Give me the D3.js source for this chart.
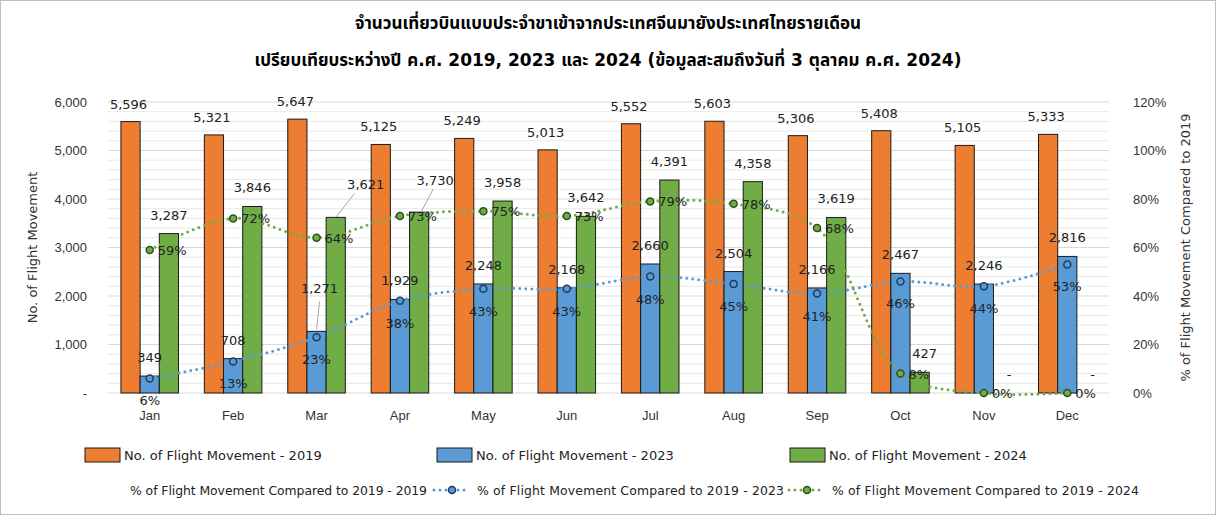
<!DOCTYPE html>
<html><head><meta charset="utf-8">
<script src="https://cdn.jsdelivr.net/npm/d3@7"></script>
<style>
body{margin:0;background:#fff;}
svg{display:block;font-family:"DejaVu Sans","Noto Sans","Noto Sans Thai",sans-serif;}
</style></head><body>
<svg id="c" width="1216" height="515"></svg>
<script>
const months = ["Jan","Feb","Mar","Apr","May","Jun","Jul","Aug","Sep","Oct","Nov","Dec"];
const flights2019 = [5596,5321,5647,5125,5249,5013,5552,5603,5306,5408,5105,5333];
const flights2023 = [349,708,1271,1929,2248,2168,2660,2504,2166,2467,2246,2816];
const flights2024 = [3287,3846,3621,3730,3958,3642,4391,4358,3619,427,null,null];
const pct2023 = [6,13,23,38,43,43,48,45,41,46,44,53];
const pct2024 = [59,72,64,73,75,73,79,78,68,8,0,0];
const leftTicks = [0,1000,2000,3000,4000,5000,6000];
const rightTicks = [0,20,40,60,80,100,120];
const titleLines = ["จำนวนเที่ยวบินแบบประจำขาเข้าจากประเทศจีนมายังประเทศไทยรายเดือน",
  "เปรียบเทียบระหว่างปี ค.ศ. 2019, 2023 และ 2024 (ข้อมูลสะสมถึงวันที่ 3 ตุลาคม ค.ศ. 2024)"];

const C19="#ED7D31", C23="#5B9BD5", C24="#70AD47";
const svg = d3.select("#c");
const W=1216,H=515;
const L=108,R=1109,T=102,B=393;
svg.append("rect").attr("x",0.5).attr("y",0.5).attr("width",W-1).attr("height",H-1).attr("fill","#fff").attr("stroke","#bfbfbf");

const x = d3.scaleBand().domain(months).range([L,R]).paddingInner(0.31).paddingOuter(0.155);
const xs = d3.scaleBand().domain(["a","b","c"]).range([0,x.bandwidth()]);
const y = d3.scaleLinear().domain([0,6000]).range([B,T]);
const yr = d3.scaleLinear().domain([0,120]).range([B,T]);
const cx = m => x(m)+x.bandwidth()/2;

// gridlines
svg.append("g").selectAll("line").data(d3.range(200,6001,200)).join("line")
  .attr("x1",L).attr("x2",R).attr("y1",d=>y(d)).attr("y2",d=>y(d))
  .attr("stroke",d=>d%1000===0?"#d9d9d9":"#e8e8e8").attr("stroke-width",1);
svg.append("line").attr("x1",L).attr("x2",R).attr("y1",B).attr("y2",B).attr("stroke","#d9d9d9");

// axes
const fmt = d3.format(",");
const la = svg.append("g").attr("transform",`translate(${L},0)`)
  .call(d3.axisLeft(y).tickValues(leftTicks).tickSize(0).tickPadding(21).tickFormat(d=>d===0?"-":fmt(d)));
la.select(".domain").remove();
la.selectAll("text").attr("font-size",13).attr("fill","#333").attr("font-family","inherit");
const ra = svg.append("g").attr("transform",`translate(${R},0)`)
  .call(d3.axisRight(yr).tickValues(rightTicks).tickSize(0).tickPadding(24).tickFormat(d=>d+"%"));
ra.select(".domain").remove();
ra.selectAll("text").attr("font-size",13).attr("fill","#333").attr("font-family","inherit");
const xa = svg.append("g").attr("transform",`translate(0,${B})`)
  .call(d3.axisBottom(x).tickSize(0).tickPadding(18));
xa.select(".domain").remove();
xa.selectAll("text").attr("font-size",13).attr("fill","#333").attr("font-family","inherit");

svg.append("text").attr("transform",`translate(37,${(T+B)/2}) rotate(-90)`).attr("text-anchor","middle")
  .attr("font-size",13).attr("fill","#333").text("No. of Flight Movement");
svg.append("text").attr("transform",`translate(1190,${(T+B)/2}) rotate(-90)`).attr("text-anchor","middle")
  .attr("font-size",13).attr("fill","#333").text("% of Flight Movement Compared to 2019");

// title
svg.selectAll(".title").data(titleLines).join("text").attr("class","title")
  .attr("x",608).attr("y",(d,i)=>29+i*37).attr("text-anchor","middle")
  .attr("font-size",17).attr("font-weight","bold").attr("fill","#000").text(d=>d);

// bars
const series = [{k:"a",v:flights2019,c:C19},{k:"b",v:flights2023,c:C23},{k:"c",v:flights2024,c:C24}];
series.forEach(s=>{
  svg.append("g").selectAll("rect").data(months.map((m,i)=>({m,v:s.v[i]})).filter(d=>d.v!=null)).join("rect")
    .attr("x",d=>x(d.m)+xs(s.k)).attr("width",xs.bandwidth())
    .attr("y",d=>y(d.v)).attr("height",d=>B-y(d.v))
    .attr("fill",s.c).attr("stroke","#1a1a1a").attr("stroke-width",1);
});

// lines
const line23 = d3.line().x((d,i)=>cx(months[i])).y(d=>yr(d)).curve(d3.curveCatmullRom);
svg.append("path").datum(pct2023).attr("d",line23).attr("fill","none").attr("stroke",C23)
  .attr("stroke-width",3).attr("stroke-dasharray","0 6").attr("stroke-linecap","round");
svg.append("path").datum(pct2024).attr("d",line23).attr("fill","none").attr("stroke",C24)
  .attr("stroke-width",3).attr("stroke-dasharray","0 6").attr("stroke-linecap","round");
svg.append("g").selectAll("circle").data(pct2023).join("circle")
  .attr("cx",(d,i)=>cx(months[i])).attr("cy",d=>yr(d)).attr("r",3.5)
  .attr("fill",C23).attr("stroke","#1f3a5f").attr("stroke-width",1.5);
svg.append("g").selectAll("circle").data(pct2024).join("circle")
  .attr("cx",(d,i)=>cx(months[i])).attr("cy",d=>yr(d)).attr("r",3.5)
  .attr("fill",C24).attr("stroke","#2f4f1f").attr("stroke-width",1.5);

// labels
const lab = (xx,yy,t,anchor="middle") => svg.append("text").attr("x",xx).attr("y",yy)
  .attr("text-anchor",anchor).attr("font-size",13).attr("fill","#222").text(t);
months.forEach((m,i)=>{
  const x19 = x(m)+xs("a")+xs.bandwidth()/2, x23 = x(m)+xs("b")+xs.bandwidth()/2, x24 = x(m)+xs("c")+xs.bandwidth()/2;
  lab(x19-2, y(flights2019[i])-13, fmt(flights2019[i]));
  if(i===2){
    lab(x23+3, y(flights2023[i])-38, fmt(flights2023[i]));
    svg.append("line").attr("x1",x23+3).attr("y1",y(flights2023[i])-30).attr("x2",x23).attr("y2",y(flights2023[i])-2).attr("stroke","#a6a6a6");
  } else lab(x23, y(flights2023[i])-14, fmt(flights2023[i]));
  lab(cx(m), yr(pct2023[i])+27, pct2023[i]+"%");
  const v = flights2024[i];
  if(v==null){ lab(x24+6, y(0)-14, "-"); }
  else if(i===2){
    lab(x24+30, y(v)-28, fmt(v));
    svg.append("line").attr("x1",x24+19).attr("y1",y(v)-24).attr("x2",x24).attr("y2",y(v)).attr("stroke","#a6a6a6");
  } else if(i===3){
    lab(x24+16, y(v)-27, fmt(v));
    svg.append("line").attr("x1",x24+14).attr("y1",y(v)-23).attr("x2",x24+2).attr("y2",y(v)).attr("stroke","#a6a6a6");
  } else lab(x24+(i===9?5:0), y(v)-14, fmt(v));
  lab(cx(m)+8, yr(pct2024[i])+5, pct2024[i]+"%","start");
});

// legend
const lg = svg.append("g").attr("font-size",13).attr("fill","#222");
[[C19,85,"No. of Flight Movement - 2019"],[C23,437,"No. of Flight Movement - 2023"],[C24,790,"No. of Flight Movement - 2024"]].forEach(([c,xx,t])=>{
  lg.append("rect").attr("x",xx).attr("y",448).attr("width",35).attr("height",14).attr("fill",c).attr("stroke","#1a1a1a");
  lg.append("text").attr("x",xx+39).attr("y",460).text(t);
});
lg.append("text").attr("x",130).attr("y",495).attr("font-size",12.4).attr("textLength",297).text("% of Flight Movement Compared to 2019 - 2019");
[[C23,"#1f3a5f",432,"% of Flight Movement Compared to 2019 - 2023"],[C24,"#2f4f1f",787,"% of Flight Movement Compared to 2019 - 2024"]].forEach(([c,sc,xx,t])=>{
  lg.append("line").attr("x1",xx+2).attr("x2",xx+38).attr("y1",490).attr("y2",490).attr("stroke",c)
    .attr("stroke-width",3).attr("stroke-dasharray","0 6").attr("stroke-linecap","round");
  lg.append("circle").attr("cx",xx+20).attr("cy",490).attr("r",3.5).attr("fill",c).attr("stroke",sc).attr("stroke-width",1.5);
  lg.append("text").attr("x",xx+45).attr("y",495).attr("font-size",12.4).attr("textLength",307).text(t);
});
</script></body></html>
